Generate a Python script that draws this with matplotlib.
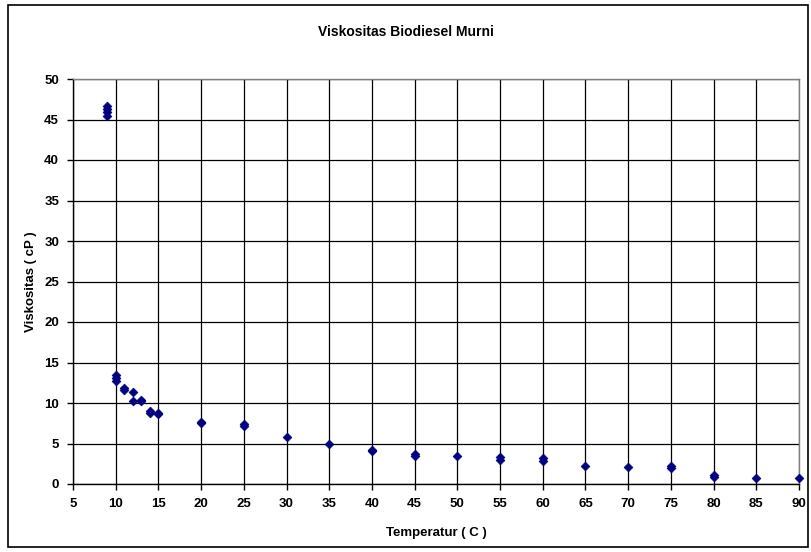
import matplotlib
matplotlib.use("Agg")
import matplotlib.pyplot as plt
from matplotlib.patches import Rectangle

plt.rcParams['font.family'] = ['Liberation Sans', 'DejaVu Sans']

# Data (temperature in C, viscosity in cP), replicate readings
temperature = [9, 9, 9, 9,
               10, 10, 10,
               11, 11,
               12, 12,
               13, 13,
               14, 14,
               15, 15,
               20, 20,
               25, 25,
               30, 35,
               40, 40,
               45, 45,
               50,
               55, 55,
               60, 60,
               65, 70,
               75, 75,
               80, 80,
               85, 90]
viscosity = [45.4, 45.9, 46.3, 46.7,
             12.7, 13.1, 13.5,
             11.6, 11.8,
             11.3, 10.25,
             10.4, 10.3,
             9.0, 8.8,
             8.6, 8.8,
             7.5, 7.6,
             7.1, 7.4,
             5.8, 5.0,
             4.1, 4.25,
             3.45, 3.65,
             3.45,
             2.95, 3.3,
             2.8, 3.15,
             2.27, 2.1,
             1.95, 2.2,
             0.9, 1.1,
             0.75, 0.75]

x_ticks = list(range(5, 95, 5))
y_ticks = list(range(0, 55, 5))

fig = plt.figure(figsize=(8.11, 5.52), dpi=100)
ax = fig.add_axes([73/811, 1-484/552, (799-73)/811, (484-79)/552])

ax.scatter(temperature, viscosity, marker='D', s=20, color='#000080',
           edgecolors='#000080', linewidths=0.5, zorder=3, clip_on=False)

ax.set_xlim(5, 90)
ax.set_ylim(0, 50)
ax.set_xticks(x_ticks)
ax.set_yticks(y_ticks)
ax.grid(True, color='black', linewidth=0.9)
ax.set_axisbelow(True)
for s in ax.spines.values():
    s.set_color('#808080')
    s.set_linewidth(1.0)
ax.spines['left'].set_color('black')
ax.spines['bottom'].set_color('black')
ax.tick_params(axis='both', direction='out', length=4, width=1, labelsize=9.5, pad=6)
for lbl in ax.get_xticklabels() + ax.get_yticklabels():
    lbl.set_fontweight('bold')

ax.set_xlabel('Temperatur ( C )', fontsize=9.5, fontweight='bold', labelpad=12)
ax.set_ylabel('Viskositas ( cP )', fontsize=9.5, fontweight='bold', labelpad=5)
fig.text(0.5, 1-32/552, 'Viskositas Biodiesel Murni', ha='center', va='center',
         fontsize=10, fontweight='bold')

# Outer chart border
fig.patches.append(Rectangle((8/811, 1-547/552), (808-8)/811, (547-5)/552,
                             transform=fig.transFigure, fill=False,
                             edgecolor='black', linewidth=1.2))

fig.savefig('out.png', dpi=100)
